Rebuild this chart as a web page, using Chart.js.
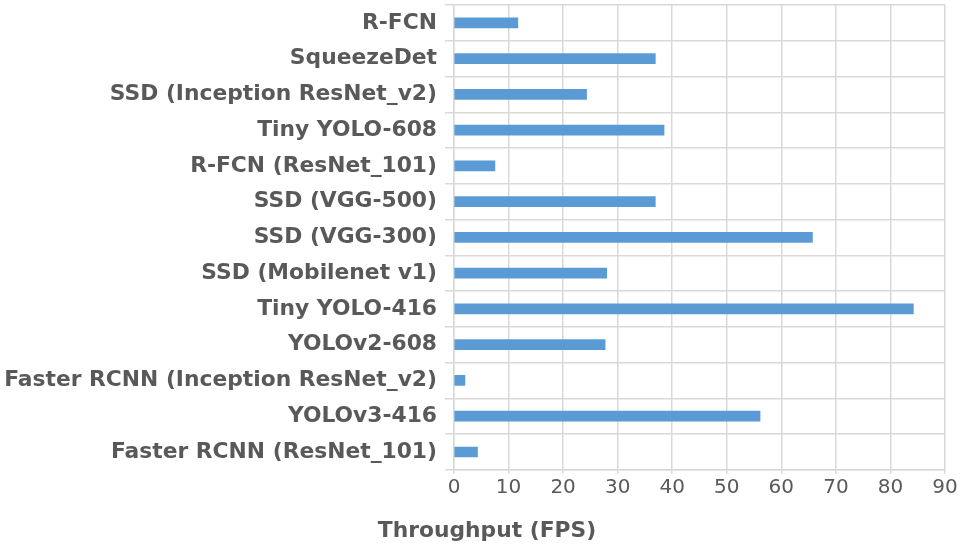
<!DOCTYPE html>
<html>
<head>
<meta charset="utf-8">
<script src="https://cdn.jsdelivr.net/npm/chart.js@4/dist/chart.umd.min.js"></script>
<style>
  html, body { margin: 0; padding: 0; background: #fff; }
  #wrap { width: 974px; height: 548px; }
</style>
</head>
<body>
<div id="wrap"><canvas id="fpsChart"></canvas></div>
<script>
/* ===== Detector throughput bar chart ===== */

const models = [
  'R-FCN',
  'SqueezeDet',
  'SSD (Inception ResNet_v2)',
  'Tiny YOLO-608',
  'R-FCN (ResNet_101)',
  'SSD (VGG-500)',
  'SSD (VGG-300)',
  'SSD (Mobilenet v1)',
  'Tiny YOLO-416',
  'YOLOv2-608',
  'Faster RCNN (Inception ResNet_v2)',
  'YOLOv3-416',
  'Faster RCNN (ResNet_101)'
];
const fps = [11.7, 36.9, 24.3, 38.5, 7.5, 36.9, 65.7, 28.0, 84.2, 27.7, 2.0, 56.1, 4.3];
const xTicks = [0, 10, 20, 30, 40, 50, 60, 70, 80, 90];
const axisTitle = 'Throughput (FPS)';

const gridColor = '#d9d9d9';
const textColor = '#595959';

document.addEventListener('DOMContentLoaded', () => {
  const ctx = document.getElementById('fpsChart').getContext('2d');
  new Chart(ctx, {
    type: 'bar',
    data: {
      labels: models,
      datasets: [{
        data: fps,
        backgroundColor: '#5b9bd5',
        borderWidth: 0,
        barThickness: 10
      }]
    },
    options: {
      indexAxis: 'y',
      responsive: true,
      maintainAspectRatio: false,
      animation: false,
      layout: { padding: { top: 5, right: 0, left: 0, bottom: 2 } },
      scales: {
        x: {
          min: xTicks[0],
          max: xTicks[xTicks.length - 1],
          afterBuildTicks: axis => { axis.ticks = xTicks.map(v => ({ value: v })); },
          // keep the right gap on the axis so the title stays centred on the page
          afterFit: s => { s.paddingRight = 29; },
          grid: { color: gridColor, lineWidth: 1.5, tickLength: 4 },
          border: { color: gridColor, width: 1.5 },
          ticks: {
            color: textColor,
            padding: 2,
            font: { family: 'DejaVu Sans', size: 20 }
          }
        },
        y: {
          // labels sit inside their bands, so no overhang is needed above/below
          afterFit: s => { s.paddingTop = 0; s.paddingBottom = 0; s.width = 454; },
          grid: { color: gridColor, lineWidth: 1.5, tickLength: 9, offset: true },
          border: { color: gridColor, width: 1.5 },
          ticks: {
            color: textColor,
            padding: 8,
            autoSkip: false,
            font: { family: 'DejaVu Sans', size: 21.8, weight: 'bold' }
          }
        }
      },
      plugins: {
        legend: { display: false },
        tooltip: { enabled: false },
        title: {
          display: true,
          text: axisTitle,
          position: 'bottom',
          color: textColor,
          padding: { top: 16, bottom: 2 },
          font: { family: 'DejaVu Sans', size: 21.8, weight: 'bold' }
        }
      }
    }
  });
});
</script>
</body>
</html>
